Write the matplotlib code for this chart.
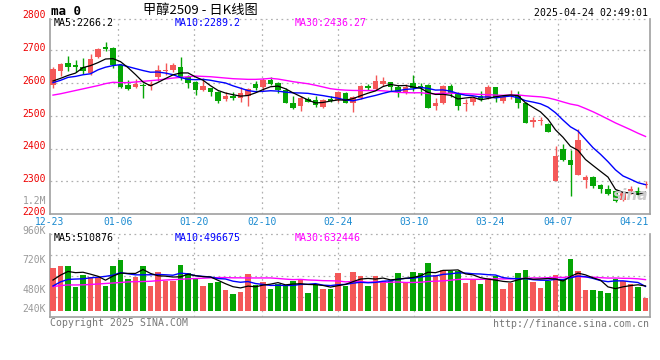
import matplotlib.pyplot as plt
from matplotlib.transforms import blended_transform_factory

# ===== DATA =====
date_labels = ['12-23', '01-06', '01-20', '02-10', '02-24', '03-10', '03-24', '04-07', '04-21']
date_index = [0, 9, 19, 28, 38, 48, 58, 67, 77]

open_ = [2595, 2635, 2661, 2655, 2648, 2629, 2678, 2710, 2706, 2655,
         2594, 2589, 2593, 2590, 2617, 2635, 2638, 2649, 2618, 2604,
         2579, 2584, 2572, 2551, 2561, 2554, 2561, 2597, 2589, 2609,
         2599, 2579, 2538, 2531, 2552, 2548, 2528, 2552, 2549, 2569,
         2538, 2554, 2592, 2582, 2598, 2603, 2589, 2572, 2601, 2589,
         2594, 2531, 2540, 2591, 2569, 2535, 2543, 2561, 2553, 2587,
         2546, 2559, 2564, 2540, 2480, 2485, 2475, 2300, 2399, 2366,
         2320, 2305, 2313, 2289, 2277, 2270, 2242, 2270, 2271, 2288]
high = [2650, 2660, 2683, 2670, 2676, 2689, 2706, 2726, 2710, 2657,
        2609, 2612, 2599, 2605, 2655, 2660, 2661, 2678, 2625, 2606,
        2615, 2586, 2574, 2572, 2572, 2589, 2584, 2606, 2615, 2617,
        2604, 2584, 2559, 2559, 2557, 2561, 2552, 2559, 2576, 2571,
        2559, 2594, 2596, 2623, 2619, 2604, 2594, 2596, 2625, 2601,
        2597, 2553, 2594, 2597, 2571, 2550, 2558, 2576, 2594, 2587,
        2564, 2579, 2574, 2543, 2496, 2496, 2479, 2408, 2415, 2396,
        2460, 2320, 2315, 2292, 2290, 2273, 2270, 2285, 2284, 2300]
low = [2585, 2622, 2637, 2633, 2627, 2625, 2676, 2696, 2645, 2584,
       2579, 2584, 2554, 2580, 2605, 2625, 2633, 2609, 2584, 2564,
       2576, 2561, 2540, 2546, 2548, 2543, 2531, 2579, 2576, 2594,
       2569, 2538, 2521, 2515, 2541, 2528, 2525, 2541, 2543, 2538,
       2510, 2551, 2579, 2579, 2592, 2576, 2556, 2566, 2577, 2564,
       2523, 2518, 2536, 2558, 2518, 2515, 2533, 2546, 2550, 2543,
       2538, 2550, 2525, 2477, 2467, 2472, 2452, 2300, 2363, 2254,
       2320, 2280, 2279, 2263, 2257, 2237, 2240, 2260, 2254, 2280]
close = [2643, 2658, 2649, 2649, 2635, 2673, 2704, 2704, 2655, 2589,
         2582, 2598, 2590, 2598, 2640, 2641, 2655, 2618, 2599, 2579,
         2591, 2571, 2546, 2559, 2554, 2569, 2581, 2586, 2609, 2597,
         2579, 2540, 2525, 2554, 2543, 2533, 2548, 2546, 2571, 2540,
         2556, 2591, 2586, 2606, 2606, 2589, 2571, 2589, 2584, 2587,
         2525, 2540, 2591, 2569, 2531, 2540, 2553, 2550, 2589, 2557,
         2557, 2564, 2540, 2479, 2488, 2488, 2452, 2378, 2366, 2350,
         2427, 2312, 2287, 2277, 2262, 2239, 2267, 2278, 2259, 2292]

ma5 = [2606, 2614, 2623, 2630, 2646.8, 2652.8, 2662, 2673, 2674.2, 2665,
       2646.8, 2625.6, 2602.8, 2591.4, 2601.6, 2613.4, 2624.8, 2630.4, 2630.6, 2618.4,
       2608.4, 2591.6, 2577.2, 2569.2, 2564.2, 2559.8, 2561.8, 2569.8, 2579.8, 2588.4,
       2590.4, 2582.2, 2570, 2559, 2548.2, 2539, 2540.6, 2544.8, 2548.2, 2547.6,
       2552.2, 2560.8, 2568.8, 2575.8, 2589, 2595.6, 2591.6, 2592.2, 2587.8, 2584,
       2571.2, 2565, 2565.4, 2562.4, 2551.2, 2554.2, 2556.8, 2548.6, 2552.6, 2557.8,
       2561.2, 2563.4, 2561.4, 2539.4, 2525.6, 2511.8, 2489.4, 2457, 2434.4, 2406.8,
       2394.6, 2366.6, 2348.4, 2330.6, 2313, 2275.4, 2266.4, 2264.6, 2261, 2267]
ma10 = [2601, 2608, 2617, 2620, 2625, 2628, 2640, 2648, 2653, 2655.9,
        2649.8, 2643.8, 2637.9, 2632.8, 2633.3, 2630.1, 2625.2, 2616.6, 2611, 2610,
        2610.9, 2608.2, 2603.8, 2599.9, 2591.3, 2584.1, 2576.7, 2573.5, 2574.5, 2576.3,
        2575.1, 2572, 2569.9, 2569.4, 2568.3, 2564.7, 2561.4, 2557.4, 2553.6, 2547.9,
        2545.6, 2550.7, 2556.8, 2562, 2568.3, 2573.9, 2576.2, 2580.5, 2581.8, 2586.5,
        2583.4, 2578.3, 2578.8, 2575.1, 2567.6, 2562.7, 2560.9, 2557, 2557.5, 2554.5,
        2557.7, 2560.1, 2555, 2546, 2541.7, 2536.5, 2526.4, 2509.2, 2486.9, 2466.2,
        2453.2, 2428, 2402.7, 2382.5, 2359.9, 2335, 2316.5, 2306.5, 2295.8, 2290]
ma30 = [2563, 2567, 2572, 2577, 2582, 2587, 2592, 2598, 2602, 2601,
        2601, 2603, 2605, 2607, 2609, 2612, 2615, 2617, 2619, 2621,
        2620, 2619, 2617, 2615, 2613, 2612, 2611, 2611, 2612, 2614.1,
        2611.9, 2608, 2603.9, 2600.7, 2597.6, 2593, 2587.8, 2582.5, 2579.7, 2578.1,
        2577.2, 2577, 2576.8, 2577.1, 2576, 2574.2, 2571.4, 2570.5, 2570, 2570.2,
        2568, 2567, 2568.5, 2568.8, 2568.1, 2567.1, 2566.2, 2565, 2564.3, 2563,
        2562.2, 2563, 2563.5, 2561, 2559.2, 2557.7, 2554.5, 2548.9, 2542.1, 2535.7,
        2531.4, 2522.1, 2512.2, 2501.2, 2489.7, 2478.1, 2467.9, 2457.6, 2446.7, 2436.9]

# volume, thousands of lots
vol = [661, 674, 674, 507, 601, 583, 588, 515, 674, 723,
       569, 588, 674, 515, 628, 553, 553, 682, 620, 569,
       515, 539, 547, 480, 448, 466, 612, 520, 547, 488,
       529, 520, 553, 561, 458, 520, 488, 485, 620, 512,
       629, 593, 512, 593, 553, 556, 620, 548, 629, 620,
       701, 601, 642, 634, 634, 539, 561, 529, 575, 593,
       488, 534, 620, 642, 548, 499, 553, 601, 561, 731,
       637, 480, 480, 467, 458, 566, 553, 529, 507, 410]
vma5 = [560, 600, 630, 620, 623.4, 607.8, 590.6, 558.8, 592.2, 616.6,
        613.8, 613.8, 645.6, 613.8, 594.8, 591.6, 584.6, 586.2, 607.2, 595.4,
        587.8, 585, 558, 530, 505.8, 496, 510.6, 505.2, 518.6, 526.6,
        539.2, 520.8, 527.4, 530.2, 524.2, 522.4, 516, 502.4, 514.2, 525,
        546.8, 567.8, 573.2, 567.8, 576, 561.4, 566.8, 574, 581.2, 594.6,
        623.6, 619.8, 638.6, 639.6, 642.4, 610, 602, 579.4, 567.6, 559.4,
        549.2, 543.8, 562, 575.4, 566.4, 568.6, 572.4, 568.6, 552.4, 589,
        616.6, 602, 577.8, 559, 504.4, 490.2, 504.8, 514.6, 521.4, 511.8]
vma10 = [512, 545, 565, 568, 570, 578, 583, 590, 600, 620,
         610.8, 602.2, 602.2, 603, 605.7, 602.7, 599.2, 615.9, 610.5, 595.1,
         589.7, 584.8, 572.1, 568.6, 550.6, 541.9, 547.8, 531.6, 524.3, 516.2,
         517.6, 515.7, 516.3, 524.4, 525.4, 530.8, 518.4, 514.9, 522.2, 524.6,
         534.6, 541.9, 537.8, 541, 550.5, 554.1, 567.3, 573.6, 574.5, 585.3,
         592.5, 593.3, 606.3, 610.4, 618.5, 616.8, 610.9, 609, 603.6, 600.9,
         579.6, 572.9, 570.7, 571.5, 562.9, 558.9, 558.1, 565.3, 563.9, 577.7,
         592.6, 587.2, 573.2, 555.7, 546.7, 553.4, 553.4, 546.2, 540.2, 508.1]
vma30 = [507, 515, 520, 520, 521, 524, 528, 532, 536, 540,
         545, 547, 548, 550, 555, 560, 563, 566, 570, 572,
         575, 578, 580, 580, 578, 578, 577, 577, 577, 577.1,
         572.7, 567.6, 563.5, 565.3, 560.6, 558.5, 555.1, 554.1, 552.3, 545.3,
         547.3, 547.5, 542.1, 544.7, 542.2, 542.3, 544.5, 540, 540.3, 542,
         548.2, 550.3, 553.5, 558.6, 564.8, 567.2, 565.5, 565.8, 566.8, 570.3,
         568.9, 569.4, 571.6, 574.3, 577.3, 576.6, 578.8, 582.6, 580.7, 588,
         588.2, 584.5, 583.4, 579.2, 576, 576.4, 574.1, 573.5, 570.2, 563.2]

price_ticks = [2800, 2700, 2600, 2500, 2400, 2300, 2200]
vol_ticks = [960, 720, 480, 240]

# ===== STYLE =====
RED = '#f45858'
GREEN = '#05a505'
GRID = '#b0b0b0'
FRAME = '#a0a0a0'
LBL_GRAY = '#999999'
DATE_BLUE = '#1a8ad0'
W, H = 660, 360
GRID_STEP = 7.586 / 7.5  # date grid spacing vs candle spacing
dotted = (0, (1.4, 2.8))

plt.rcParams['font.family'] = ['DejaVu Sans Mono', 'Noto Sans CJK SC']


def fx(px):
    return px / W


def fy(py):
    return 1 - py / H


fig = plt.figure(figsize=(6.6, 3.6), dpi=100)
fig.patch.set_facecolor('white')

ax = fig.add_axes([fx(50), fy(213.5), fx(650) - fx(50), fy(19) - fy(213.5)])
axv = fig.add_axes([fx(50), fy(317.3), fx(650) - fx(50), fy(234.3) - fy(317.3)])

n = len(close)
x = list(range(n))
up = [c >= o for o, c in zip(open_, close)]
cols = [RED if u else GREEN for u in up]
grid_x = [i * GRID_STEP - 0.41 for i in date_index]

for a in (ax, axv):
    a.set_xlim(-0.4, 79.6)
    for s in a.spines.values():
        s.set_visible(False)
    a.set_xticks([])
    a.set_yticks([])
    # frame: solid left/right/bottom, dotted top
    a.plot([0, 0], [0, 1], color=FRAME, lw=1.2, transform=a.transAxes, clip_on=False)
    a.plot([1, 1], [0, 1], color=FRAME, lw=1.2, transform=a.transAxes, clip_on=False)
    a.plot([0, 1], [0, 0], color=FRAME, lw=1.2, transform=a.transAxes, clip_on=False)
    a.plot([0, 1], [1, 1], color=GRID, lw=0.9, ls=dotted, transform=a.transAxes, clip_on=False)
    for gx in grid_x[1:-1]:
        a.axvline(gx, color=GRID, lw=0.9, ls=dotted, zorder=0)

# ===== PRICE PANEL =====
ax.set_ylim(2202, 2795)
for p in price_ticks[1:-1]:
    ax.axhline(p, color=GRID, lw=0.9, ls=dotted, zorder=0)

ax.vlines(x, low, high, colors=cols, lw=1, zorder=2)
bodies = [max(abs(c - o), 2.5) for o, c in zip(open_, close)]
bottoms = [min(o, c) for o, c in zip(open_, close)]
ax.bar(x, bodies, bottom=bottoms, width=0.74, color=cols, lw=0, zorder=3)

ax.plot(x, ma30, color='#ff00ff', lw=1, zorder=4)
ax.plot(x, ma10, color='#0000ff', lw=1, zorder=4)
ax.plot(x, ma5, color='black', lw=0.9, zorder=4)

tr = blended_transform_factory(ax.transAxes, ax.transData)
for p in price_ticks:
    ax.annotate(str(p), xy=(0, p), xycoords=tr, xytext=(-3, 1.5), textcoords='offset points',
                ha='right', va='center', color='#ee0000', fontsize=7, annotation_clip=False)

for lab, gx in zip(date_labels, grid_x):
    ax.annotate(lab, xy=(gx, 0), xycoords=blended_transform_factory(ax.transData, ax.transAxes),
                xytext=(0, -6), textcoords='offset points', ha='center', va='center',
                color=DATE_BLUE, fontsize=7, annotation_clip=False)

fig.text(fx(54), fy(23.3), 'MA5:2266.2', color='black', fontsize=7.2, va='center')
fig.text(fx(174.5), fy(23.3), 'MA10:2289.2', color='#0000ff', fontsize=7.2, va='center')
fig.text(fx(295), fy(23.3), 'MA30:2436.27', color='#ff00ff', fontsize=7.2, va='center')
fig.text(fx(46), fy(200.7), '1.2M', color=LBL_GRAY, fontsize=7, ha='right', va='center')
fig.text(fx(648), fy(196), 'sina', color='#cccccc', fontsize=11, ha='right', va='center',
         family='DejaVu Sans', style='italic', weight='bold')

# ===== VOLUME PANEL =====
vbase = 312
axv.set_ylim(257, 932)
for fr in (0.25, 0.5, 0.75):
    axv.axhline(257 + fr * (932 - 257), color=GRID, lw=0.9, ls=dotted, zorder=0)
axv.bar(x, [v - vbase for v in vol], bottom=vbase, width=0.74, color=cols, lw=0, zorder=2)
axv.plot(x, vma30, color='#ff00ff', lw=1, zorder=3)
axv.plot(x, vma10, color='#0000ff', lw=1, zorder=3)
axv.plot(x, vma5, color='black', lw=0.9, zorder=3)

trv = blended_transform_factory(axv.transAxes, axv.transData)
for v in vol_ticks:
    axv.annotate(f'{v}K', xy=(0, max(v, 322)), xycoords=trv, xytext=(-3, 0), textcoords='offset points',
                 ha='right', va='center', color=LBL_GRAY, fontsize=7, annotation_clip=False)

fig.text(fx(54), fy(238.3), 'MA5:510876', color='black', fontsize=7.2, va='center')
fig.text(fx(174.5), fy(238.3), 'MA10:496675', color='#0000ff', fontsize=7.2, va='center')
fig.text(fx(295), fy(238.3), 'MA30:632446', color='#ff00ff', fontsize=7.2, va='center')

# ===== HEADER / FOOTER =====
fig.text(fx(51), fy(11.5), 'ma 0', fontsize=9, weight='bold', va='center')
fig.text(fx(200), fy(10.5), '甲醇2509 - 日K线图', fontsize=9.5, ha='center', va='center',
         family=['Noto Sans CJK SC', 'DejaVu Sans'])
fig.text(fx(648.5), fy(12.7), '2025-04-24 02:49:01', fontsize=7.1, ha='right', va='center')
fig.text(fx(50), fy(323.5), 'Copyright 2025 SINA.COM', fontsize=7.1, color='#777777', va='center')
fig.text(fx(649), fy(324), 'http://finance.sina.com.cn', fontsize=7.1, color='#777777',
         ha='right', va='center')

fig.savefig('out.png', dpi=100)
